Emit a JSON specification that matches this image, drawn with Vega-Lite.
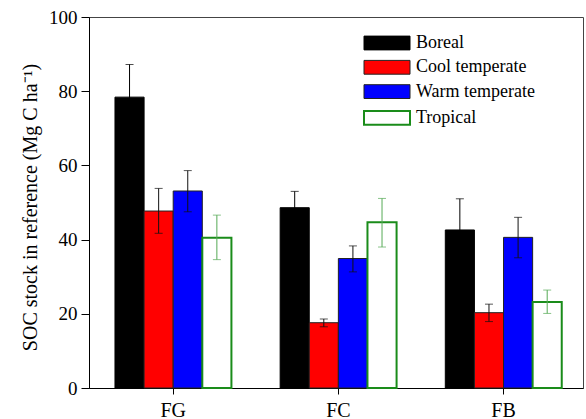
{
  "$schema": "https://vega.github.io/schema/vega-lite/v6.json",
  "width": 494,
  "height": 371,
  "autosize": "none",
  "padding": {"left": 89, "top": 17, "right": 3, "bottom": 31},
  "background": "white",
  "config": {
    "font": "Liberation Serif",
    "view": {"stroke": "#444", "strokeWidth": 1},
    "axis": {"domainColor": "#000", "tickColor": "#000", "labelColor": "#000", "titleColor": "#000", "labelFont": "Liberation Serif", "titleFont": "Liberation Serif", "grid": false}
  },
  "data": {
    "values": [
      {"group": "FG", "series": "Boreal", "value": 78.4, "lo": 69.6, "hi": 87.2},
      {"group": "FG", "series": "Cool temperate", "value": 47.7, "lo": 41.7, "hi": 53.8},
      {"group": "FG", "series": "Warm temperate", "value": 53.1, "lo": 47.5, "hi": 58.6},
      {"group": "FG", "series": "Tropical", "value": 40.5, "lo": 34.6, "hi": 46.6},
      {"group": "FC", "series": "Boreal", "value": 48.6, "lo": 44.2, "hi": 53.0},
      {"group": "FC", "series": "Cool temperate", "value": 17.6, "lo": 16.5, "hi": 18.6},
      {"group": "FC", "series": "Warm temperate", "value": 34.9, "lo": 31.3, "hi": 38.3},
      {"group": "FC", "series": "Tropical", "value": 44.7, "lo": 38.0, "hi": 51.1},
      {"group": "FB", "series": "Boreal", "value": 42.6, "lo": 34.2, "hi": 51.0},
      {"group": "FB", "series": "Cool temperate", "value": 20.3, "lo": 17.9, "hi": 22.6},
      {"group": "FB", "series": "Warm temperate", "value": 40.6, "lo": 35.1, "hi": 46.0},
      {"group": "FB", "series": "Tropical", "value": 23.2, "lo": 20.1, "hi": 26.4}
    ]
  },
  "encoding": {
    "x": {
      "field": "group", "type": "nominal", "sort": ["FG", "FC", "FB"],
      "scale": {"paddingInner": 0.295, "paddingOuter": 0.143, "align": 0.55},
      "axis": {"title": null, "labelAngle": 0, "labelFontSize": 20, "tickSize": 6, "tickWidth": 1, "labelPadding": 6, "domainWidth": 1}
    },
    "xOffset": {"field": "series", "type": "nominal", "sort": ["Boreal", "Cool temperate", "Warm temperate", "Tropical"], "scale": {"paddingInner": 0, "paddingOuter": 0}}
  },
  "layer": [
    {
      "mark": {"type": "bar", "strokeWidth": 1},
      "encoding": {
        "y": {
          "field": "value", "type": "quantitative",
          "scale": {"domain": [0, 100], "nice": false},
          "axis": {"values": [0, 20, 40, 60, 80, 100], "title": "SOC stock in reference (Mg C ha⁻¹)", "titleFontSize": 20, "titleFontWeight": "normal", "titleAngle": -90, "titleX": -53, "titleY": 190, "titleAlign": "center", "titleBaseline": "alphabetic", "labelFontSize": 19, "tickSize": 8, "labelPadding": 4}
        },
        "fill": {
          "field": "series", "type": "nominal",
          "scale": {"domain": ["Boreal", "Cool temperate", "Warm temperate", "Tropical"], "range": ["#000000", "#ff0000", "#0000ff", "#ffffff"]},
          "legend": {
            "title": null, "orient": "none", "legendX": 274, "legendY": 17, "padding": 0,
            "symbolType": "M-1,-0.3H1V0.3H-1Z", "symbolSize": 2116, "symbolStrokeWidth": 1, "symbolOffset": 15,
            "labelFont": "Liberation Serif", "labelFontSize": 18, "labelColor": "#000", "labelOffset": 20, "rowPadding": 6.3, "labelLimit": 300,
            "encode": {"symbols": {"update": {"strokeWidth": {"signal": "datum.value === 'Tropical' ? 2 : 1"}}}}
          }
        },
        "stroke": {
          "field": "series", "type": "nominal",
          "scale": {"domain": ["Boreal", "Cool temperate", "Warm temperate", "Tropical"], "range": ["#000000", "#222222", "#222222", "#1a8c1a"]},
          "legend": {
            "title": null, "orient": "none", "legendX": 274, "legendY": 17, "padding": 0,
            "symbolType": "M-1,-0.3H1V0.3H-1Z", "symbolSize": 2116, "symbolStrokeWidth": 1, "symbolOffset": 15,
            "labelFont": "Liberation Serif", "labelFontSize": 18, "labelColor": "#000", "labelOffset": 20, "rowPadding": 6.3, "labelLimit": 300,
            "encode": {"symbols": {"update": {"strokeWidth": {"signal": "datum.value === 'Tropical' ? 2 : 1"}}}}
          }
        },
        "strokeWidth": {"condition": {"test": "datum.series === 'Tropical'", "value": 2}, "value": 1}
      }
    },
    {
      "mark": {"type": "rule", "strokeWidth": 1},
      "encoding": {
        "y": {"field": "lo", "type": "quantitative"},
        "y2": {"field": "hi"},
        "color": {"field": "series", "type": "nominal", "scale": {"domain": ["Boreal", "Cool temperate", "Warm temperate", "Tropical"], "range": ["#000000", "#111111", "#111111", "#55aa55"]}, "legend": null}
      }
    },
    {
      "mark": {"type": "tick", "size": 8, "thickness": 1, "orient": "horizontal"},
      "encoding": {
        "y": {"field": "hi", "type": "quantitative"},
        "color": {"field": "series", "type": "nominal", "legend": null}
      }
    },
    {
      "mark": {"type": "tick", "size": 8, "thickness": 1, "orient": "horizontal"},
      "encoding": {
        "y": {"field": "lo", "type": "quantitative"},
        "color": {"field": "series", "type": "nominal", "legend": null}
      }
    }
  ]
}
